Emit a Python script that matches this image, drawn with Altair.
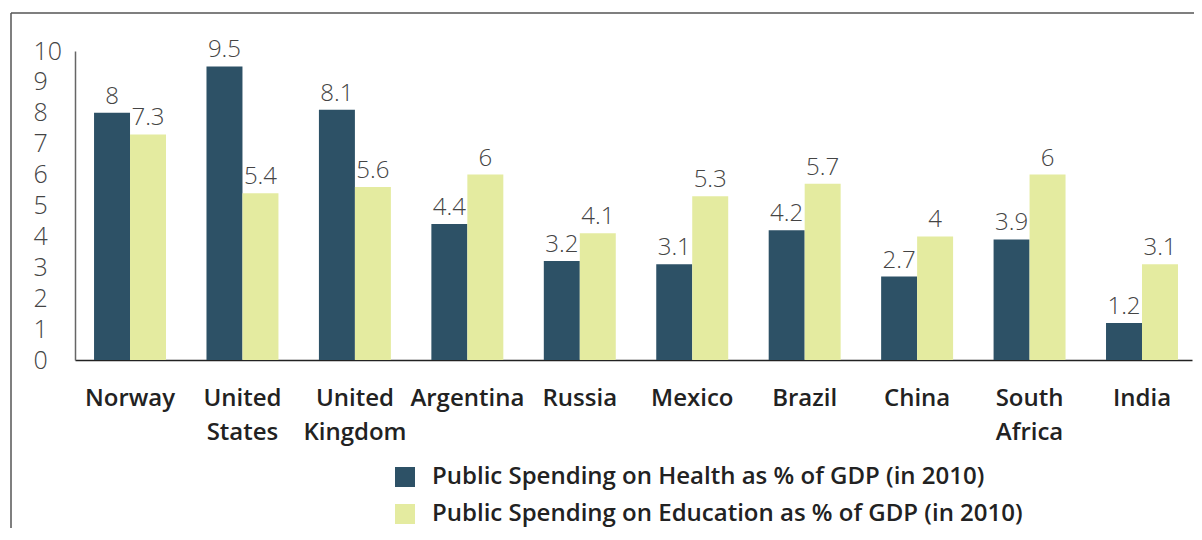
import altair as alt
import pandas as pd

countries = ["Norway", "United States", "United Kingdom", "Argentina", "Russia",
             "Mexico", "Brazil", "China", "South Africa", "India"]
health = [8, 9.5, 8.1, 4.4, 3.2, 3.1, 4.2, 2.7, 3.9, 1.2]
education = [7.3, 5.4, 5.6, 6, 4.1, 5.3, 5.7, 4, 6, 3.1]
series = ["Public Spending on Health as % of GDP (in 2010)",
          "Public Spending on Education as % of GDP (in 2010)"]
colors = ["#2d5166", "#e4eba0"]
y_ticks = [0, 1, 2, 3, 4, 5, 6, 7, 8, 9, 10]

rows = []
for c, h, e in zip(countries, health, education):
    rows.append({"country": c, "series": series[0], "value": h})
    rows.append({"country": c, "series": series[1], "value": e})
df = pd.DataFrame(rows)

FONT = "Open Sans"

xaxis = alt.Axis(labelExpr="split(datum.label, ' ')", labelAngle=0,
                 labelFontSize=24, labelFontWeight=600, labelColor="#222",
                 labelFont=FONT, labelPadding=26, labelLineHeight=34,
                 labelBaseline="top", labelOverlap=False,
                 ticks=False, tickSize=0, domainColor="#222",
                 domainWidth=1.5, grid=False)
yaxis = alt.Axis(values=y_ticks, labelAlign="left", labelPadding=42,
                 ticks=False, tickSize=0, labelFontSize=25,
                 labelFontWeight=300, labelColor="#444", labelFont=FONT,
                 labelOverlap=False, labelFlush=False, tickCount=11,
                 domainColor="#666", domainWidth=1.5, grid=False)
xscale = alt.Scale(paddingInner=0.36, paddingOuter=0.147, align=0.576)
yscale = alt.Scale(domain=[0, 10], nice=False)

xenc = alt.X("country:N", sort=countries, title=None, scale=xscale, axis=xaxis)
yenc = alt.Y("value:Q", title=None, scale=yscale, axis=yaxis)
off = alt.XOffset("series:N", sort=series, scale=alt.Scale(paddingInner=0))

base = alt.Chart(df)
bars = base.mark_bar().encode(
    x=xenc, y=yenc, xOffset=off,
    color=alt.Color("series:N", sort=series,
                    scale=alt.Scale(domain=series, range=colors),
                    legend=alt.Legend(title=None, orient="none", legendX=318, legendY=414,
                                      symbolType="square", symbolSize=400,
                                      symbolStrokeWidth=0, labelFontSize=24,
                                      labelFontWeight=600, labelColor="#222",
                                      labelFont=FONT, labelOffset=15, rowPadding=13,
                                      labelLimit=800)),
)
labels = base.mark_text(baseline="bottom", dy=-4, fontSize=24, fontWeight=300,
                        color="#444", font=FONT).encode(
    x=xenc, y=yenc, xOffset=off,
    text=alt.Text("value:Q"),
)

frame_data = alt.Data(values=[{"a": 1}])
top_line = alt.Chart(frame_data).mark_rule(color="#555", strokeWidth=1.5).encode(
    x=alt.value(-64), x2=alt.value(1140), y=alt.value(-38))
left_line = alt.Chart(frame_data).mark_rule(color="#555", strokeWidth=1.5).encode(
    x=alt.value(-64), y=alt.value(-38), y2=alt.value(520))

chart = alt.layer(top_line, left_line, bars, labels).properties(
    width=1117, height=309,
    autosize=alt.AutoSizeParams(type="none"),
    padding={"left": 67, "top": 43, "right": 2, "bottom": 168},
).configure_view(stroke=None)

chart.save("out.html", embed_options={"renderer": "svg", "actions": False})
